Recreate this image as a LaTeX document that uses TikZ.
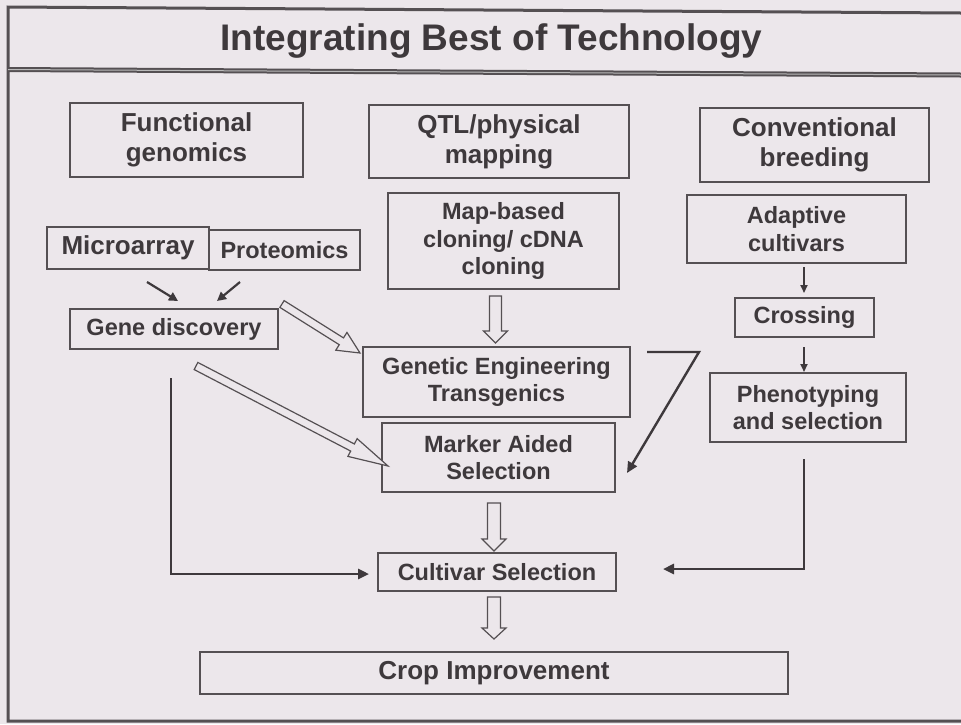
\documentclass[tikz,border=0pt]{standalone}
\usepackage{fontspec}
\setmainfont{Liberation Sans}
\usetikzlibrary{calc,arrows.meta}
\definecolor{bg}{HTML}{ECE7EB}
\definecolor{ink}{HTML}{3E393C}
\definecolor{edge}{HTML}{555053}
\newcommand{\hollowarrow}[5]{%
  \coordinate (hb) at ($(#2)!#5!(#1)$);
  \draw[hollowline] ($(#1)!#3!90:(#2)$) -- ($(hb)!#3!90:(#2)$) -- ($(hb)!#4!90:(#2)$) -- (#2)
    -- ($(hb)!#4!-90:(#2)$) -- ($(hb)!#3!-90:(#2)$) -- ($(#1)!#3!-90:(#2)$) -- cycle;}
\begin{document}
\begin{tikzpicture}[x=1pt,y=-1pt,
  box/.style={draw=edge, line width=1.5pt, text=ink, align=center, inner sep=0pt,
    font=\bfseries\fontsize{23.5}{27.5}\selectfont},
  bigbox/.style={box, font=\bfseries\fontsize{26}{30}\selectfont},
  hollowline/.style={draw=edge, line width=1.2pt, fill=bg, line join=miter},
  conn/.style={draw=ink, line width=2.6pt, -{Triangle[length=11pt,width=10pt]}},
  small/.style={draw=ink, line width=2.2pt, -{Triangle[length=9pt,width=9pt]}},
  thin/.style={draw=ink, line width=1.8pt, -{Triangle[length=8pt,width=7pt]}},
  frame/.style={draw=edge, line width=3pt}]
\useasboundingbox (0,0) rectangle (961,724);
\fill[bg] (0,0) rectangle (961,724);
% frame
\coordinate (ftl) at (8,7);
\coordinate (ftr) at (961,13);
\coordinate (fbl) at (8,721);
\coordinate (fbr) at (961,721);
\coordinate (dl) at (8,69.5);
\coordinate (dr) at (961,75);
\draw[frame] (ftr) -- (ftl) -- (fbl) -- (fbr);
\draw[draw=edge, line width=5pt] (dl) -- (dr);
\draw[draw=gray!55, line width=1pt] (dl) -- (dr);
% title
\node[anchor=base, text=ink, font=\bfseries\fontsize{37}{44}\selectfont] (title) at (491.5,50) {Integrating Best of Technology};
% boxes
\node[bigbox, minimum width=233, minimum height=74] (fg) at (186.5,140) {Functional\\genomics};
\node[bigbox, minimum width=260, minimum height=73] (qtl) at (499,141.5) {QTL/physical\\mapping};
\node[bigbox, minimum width=229, minimum height=74] (cb) at (814.5,145) {Conventional\\breeding};
\node[box, minimum width=231, minimum height=96] (mbc) at (503.5,241) {Map-based\\cloning/ cDNA\\cloning};
\node[box, minimum width=219, minimum height=68] (ac) at (796.5,229) {Adaptive\\cultivars};
\node[bigbox, minimum width=162, minimum height=42] (mic) at (128,248) {Microarray};
\node[box, minimum width=151, minimum height=40] (pro) at (284.5,250) {Proteomics};
\node[box, minimum width=208, minimum height=40] (gd) at (174,329) {Gene discovery};
\node[box, minimum width=139, minimum height=39] (cr) at (804.5,317.5) {Crossing};
\node[box, minimum width=267, minimum height=70] (ge) at (496.5,382) {Genetic Engineering\\Transgenics};
\node[box, minimum width=196, minimum height=69] (ph) at (808,407.5) {Phenotyping\\and selection};
\node[box, minimum width=233, minimum height=69] (mas) at (498.5,457.5) {Marker Aided\\Selection};
\node[box, minimum width=238, minimum height=38] (cs) at (497,572) {Cultivar Selection};
\node[bigbox, minimum width=588, minimum height=42] (ci) at (494,673) {Crop Improvement};
% hollow arrows
\coordinate (h1s) at (495.5,296); \coordinate (h1e) at (495.5,343);
\hollowarrow{h1s}{h1e}{6pt}{12pt}{12pt}
\coordinate (h2s) at (494,503); \coordinate (h2e) at (494,551);
\hollowarrow{h2s}{h2e}{6.5pt}{12pt}{12pt}
\coordinate (h3s) at (494,597); \coordinate (h3e) at (494,639);
\hollowarrow{h3s}{h3e}{6.5pt}{12pt}{11pt}
\coordinate (h4s) at (282,304); \coordinate (h4e) at (360,353);
\hollowarrow{h4s}{h4e}{4pt}{10.5pt}{22pt}
\coordinate (h5s) at (196,366); \coordinate (h5e) at (388,466);
\hollowarrow{h5s}{h5e}{4pt}{10pt}{40pt}
% small black arrows
\coordinate (m1) at (147,282); \coordinate (m2) at (178,301);
\draw[small] (m1) -- (m2);
\coordinate (p1) at (240,282); \coordinate (p2) at (217,301);
\draw[small] (p1) -- (p2);
\coordinate (a1) at (804,267); \coordinate (a2) at (804,293);
\draw[thin] (a1) -- (a2);
\coordinate (c1) at (804,347); \coordinate (c2) at (804,372);
\draw[thin] (c1) -- (c2);
% long connectors
\coordinate (gdl) at (171,378); \coordinate (gde) at (369,574);
\draw[conn] (gdl) |- (gde);
\coordinate (phl) at (804,459); \coordinate (phe) at (663,569);
\draw[conn] (phl) |- (phe);
\coordinate (b1) at (647,352); \coordinate (b2) at (699,352); \coordinate (b3) at (627,473);
\draw[conn, line width=2.4pt] (b1) -- (b2) -- (b3);
\end{tikzpicture}
\end{document}
